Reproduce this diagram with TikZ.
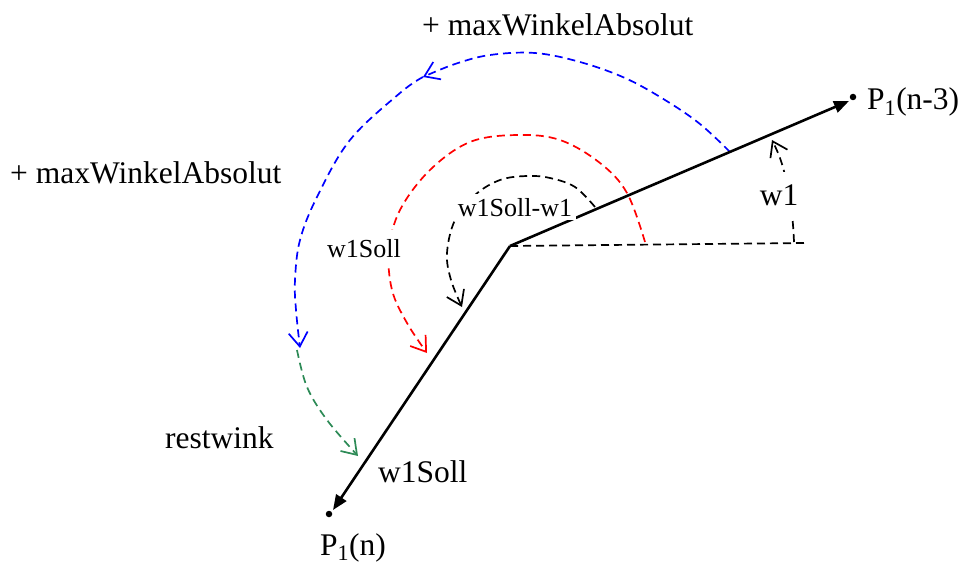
\documentclass[tikz,border=0pt]{standalone}
\usepackage{fontspec}
\setmainfont{Liberation Serif}
\usetikzlibrary{arrows.meta}
\begin{document}
\begin{tikzpicture}[x=1pt,y=-1pt,
  big/.style={font=\fontsize{31.5pt}{36pt}\selectfont, inner sep=0pt},
  small/.style={font=\fontsize{26pt}{30pt}\selectfont, inner sep=0pt},
  arc/.style={line width=1.7pt, dash pattern=on 8pt off 5pt},
  barb/.style={-{Straight Barb[length=14pt,width=19pt,line width=1.7pt]}},
  mainline/.style={line width=2.6pt, -{Triangle[length=15pt,width=12pt]}},
  dot/.style={circle, fill=black, inner sep=0pt, minimum size=6.5pt},
  white box/.style={fill=white}
]
\useasboundingbox (0,0) rectangle (963,572);
% coordinates
\coordinate (O) at (510,246);
\coordinate (A) at (849,101);
\coordinate (B) at (333,510);
\coordinate (H) at (806,243);
\node[dot] (pA) at (853,97) {};
\node[dot] (pB) at (329,514) {};

% blue arcs
\draw[blue, arc, barb] plot[smooth, tension=0.6] coordinates {(730,152) (700,124) (665,100) (625,78) (580,62) (535,53) (490,55) (455,64) (423,77)};
\draw[blue, arc, barb] plot[smooth, tension=0.6] coordinates {(423,77) (400,93) (350,140) (317,197) (300,240) (295,280) (296,310) (300,348)};
% green arc
\draw[color={rgb,255:red,46;green,139;blue,87}, arc, barb] plot[smooth, tension=0.6] coordinates {(297,350) (307,387) (327,420) (358,456)};
% red arc
\draw[red, arc, barb] plot[smooth, tension=0.6] coordinates {(645,242) (627,193) (600,163) (560,140) (517,135) (470,142) (430,170) (400,210) (389,250) (392,290) (407,323) (427,353)};
% black small arc
\draw[black, arc, barb] plot[smooth, tension=0.6] coordinates {(595,207) (575,187) (550,178) (527,176) (500,180) (475,195) (455,220) (447,253) (451,280) (462,307)};
% w1 arc
\draw[black, arc, barb] plot[smooth, tension=0.6] coordinates {(794,242) (792,215) (786,180) (780,158) (772,140)};

% horizontal reference
\draw[black, arc] (O) -- (H);
% main lines
\draw[mainline] (O) -- (A);
\draw[mainline] (O) -- (B);

% labels
\node[big, anchor=base west] (t1) at (422,36) {+ maxWinkelAbsolut};
\node[big, anchor=base west] (t2) at (10,183) {+ maxWinkelAbsolut};
\node[small, anchor=base, white box, inner xsep=3pt, inner ysep=9pt] (t3) at (364,257) {w1Soll};
\node[small, anchor=base, white box, inner xsep=4pt, inner ysep=4pt] (t4) at (515,216) {w1Soll-w1};
\node[big, anchor=base, white box, inner xsep=2pt, inner ysep=12pt] (t5) at (779,205) {w1};
\node[big, anchor=base west] (t6) at (867,110) {P\textsubscript{1}(n-3)};
\node[big, anchor=base west] (t7) at (165,448) {restwink};
\node[big, anchor=base west] (t8) at (378,482) {w1Soll};
\node[big, anchor=base west] (t9) at (320,555) {P\textsubscript{1}(n)};
\end{tikzpicture}
\end{document}
